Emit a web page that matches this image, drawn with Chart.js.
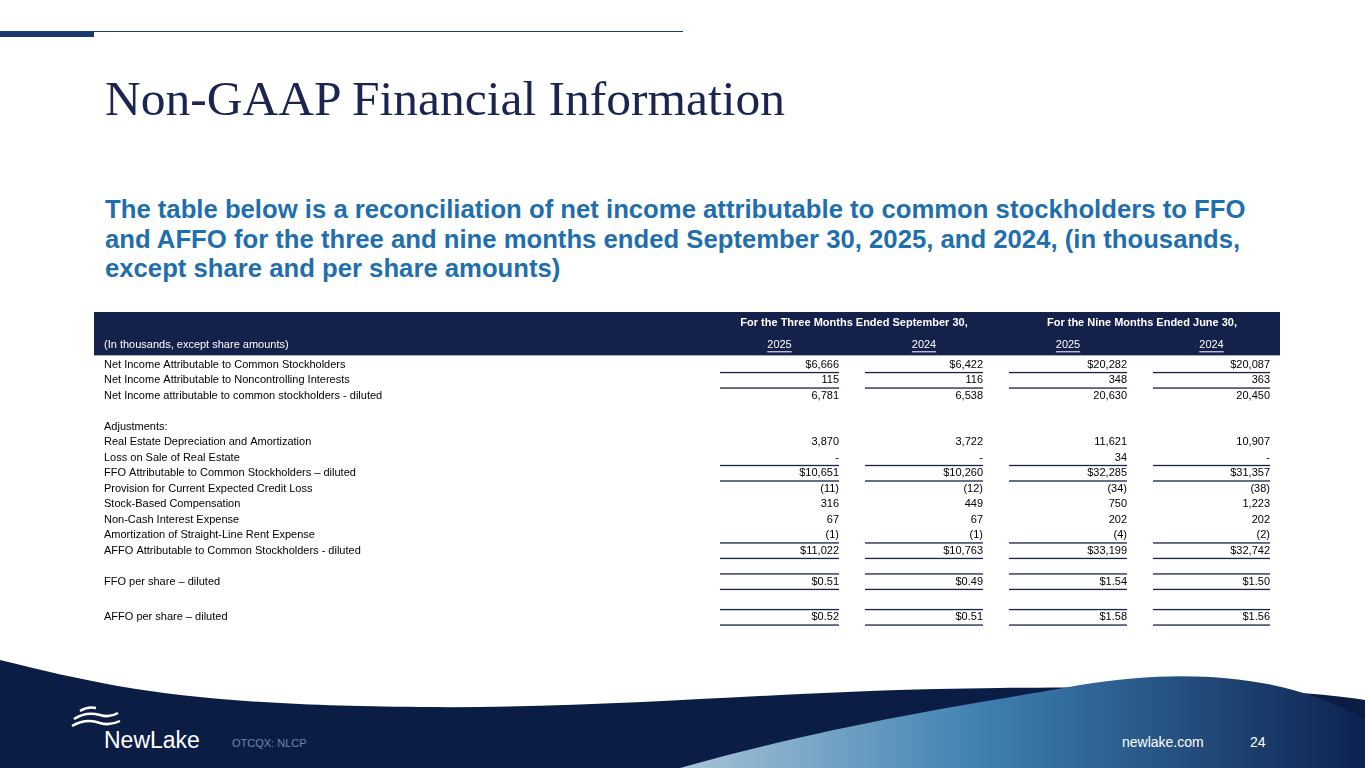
<!DOCTYPE html>
<html><head><meta charset="utf-8">
<script src="https://cdn.jsdelivr.net/npm/chart.js@4"></script>
<style>
body{margin:0;width:1365px;height:768px;overflow:hidden;background:#fff;font-family:"Liberation Sans",Arial,sans-serif;position:relative}
#title{position:absolute;left:105px;top:70px;font-family:"Liberation Serif","Times New Roman",serif;font-size:49.5px;color:#1b2550;white-space:nowrap}
#sub{position:absolute;left:105px;top:195px;width:1175px;font-weight:bold;font-size:25.7px;line-height:29.5px;color:#1f6fae}
#wrap{position:absolute;left:94px;top:312px;width:1186px;height:316px}
svg{position:absolute;left:0;top:0}
.ft{position:absolute;color:#fff;font-size:14px}
</style></head><body>
<svg width="1365" height="768">
 <rect x="0" y="31" width="94" height="6" fill="#1b3a70"/>
 <rect x="94" y="31" width="589" height="1" fill="#1b3a70"/>
 <defs><linearGradient id="g" x1="0" x2="1" y1="0" y2="0">
  <stop offset="0" stop-color="#a7c4d8"/><stop offset="0.45" stop-color="#3d7fb0"/><stop offset="1" stop-color="#0d2250"/></linearGradient></defs>
 <path d="M0,660 C120,690 200,705 420,707 C620,709 780,690 1000,688 C1200,686 1300,690 1365,700 L1365,768 L0,768 Z" fill="#0b1d45"/>
 <path d="M680,768 C850,720 1000,700 1080,685 C1200,665 1300,680 1365,720 L1365,768 Z" fill="url(#g)"/>
 <g fill="none" stroke="#fff" stroke-width="2.5"><path d="M74,719 q12,-8 26,-4 q10,3 18,-2"/><path d="M72,726 q14,-8 28,-3 q10,3 20,-2"/><path d="M80,711 q8,-5 16,-3"/></g>
</svg>
<div class="ft" style="left:104px;top:727px;font-size:23px">NewLake</div>
<div class="ft" style="left:232px;top:737px;font-size:11px;color:#6f86aa">OTCQX: NLCP</div>
<div class="ft" style="left:1122px;top:734px;font-size:14px">newlake.com</div>
<div class="ft" style="left:1250px;top:734px;font-size:14px">24</div>
<div id="title">Non-GAAP Financial Information</div>
<div id="sub">The table below is a reconciliation of net income attributable to common stockholders to FFO and AFFO for the three and nine months ended September 30, 2025, and 2024, (in thousands, except share and per share amounts)</div>
<div id="wrap"><canvas id="c"></canvas></div>
<script>
const groupHeaders = ["For the Three Months Ended September 30,", "For the Nine Months Ended June 30,"];
const columnYears = ["2025", "2024", "2025", "2024"];
const unitLabel = "(In thousands, except share amounts)";
const rowLabels = ["Net Income Attributable to Common Stockholders","Net Income Attributable to Noncontrolling Interests","Net Income attributable to common stockholders - diluted","","Adjustments:","Real Estate Depreciation and Amortization","Loss on Sale of Real Estate","FFO Attributable to Common Stockholders \u2013 diluted","Provision for Current Expected Credit Loss","Stock-Based Compensation","Non-Cash Interest Expense","Amortization of Straight-Line Rent Expense","AFFO Attributable to Common Stockholders - diluted","","FFO per share \u2013 diluted","","AFFO per share \u2013 diluted"];
const q3_2025 = ["$6,666","115","6,781","","","3,870","-","$10,651","(11)","316","67","(1)","$11,022","","$0.51","","$0.52"];
const q3_2024 = ["$6,422","116","6,538","","","3,722","-","$10,260","(12)","449","67","(1)","$10,763","","$0.49","","$0.51"];
const ytd_2025 = ["$20,282","348","20,630","","","11,621","34","$32,285","(34)","750","202","(4)","$33,199","","$1.54","","$1.58"];
const ytd_2024 = ["$20,087","363","20,450","","","10,907","-","$31,357","(38)","1,223","202","(2)","$32,742","","$1.50","","$1.56"];
const valueCols = [q3_2025, q3_2024, ytd_2025, ytd_2024];

// layout (x in canvas units 0..1186)
const colRight = [745, 889, 1033, 1176];
const colLeft = [626, 771, 915, 1059];
const groupCenters = [760, 1048];
const lineAbove = [1,2,7,12,14,16];
const lineBelow = [7,12,14,16];
const yFor = i => i + (i>=16 ? 0.3 : 0);

const tablePlugin = {id:'table', afterDraw(ch){
  const ctx=ch.ctx, x=ch.scales.x, y=ch.scales.y;
  const L=x.getPixelForValue(0), R=x.getPixelForValue(1186);
  ctx.save();
  ctx.fillStyle='#14214a';
  const top=y.getPixelForValue(-3.4), bot=y.getPixelForValue(-0.6);
  ctx.fillRect(L,top,R-L,bot-top);
  ctx.font='bold 11px "Liberation Sans", Arial'; ctx.fillStyle='#fff'; ctx.textBaseline='middle'; ctx.textAlign='center';
  groupHeaders.forEach((t,g)=>ctx.fillText(t, x.getPixelForValue(groupCenters[g]), y.getPixelForValue(-2.7)));
  ctx.font='11px "Liberation Sans", Arial'; ctx.textAlign='left';
  ctx.fillText(unitLabel, x.getPixelForValue(10), y.getPixelForValue(-1.25));
  ctx.textAlign='center';
  columnYears.forEach((t,c)=>{
    const cx=x.getPixelForValue((colRight[c]+colLeft[c])/2);
    ctx.fillText(t,cx,y.getPixelForValue(-1.25));
    const w=ctx.measureText(t).width;
    ctx.fillRect(cx-w/2,y.getPixelForValue(-1.25)+6,w,1);
  });
  ctx.fillStyle='#000';
  rowLabels.forEach((t,i)=>{ctx.textAlign='left';ctx.fillText(t,x.getPixelForValue(10),y.getPixelForValue(yFor(i)));});
  ctx.textAlign='right';
  valueCols.forEach((col,c)=>col.forEach((v,i)=>{ if(v) ctx.fillText(v,x.getPixelForValue(colRight[c]),y.getPixelForValue(yFor(i))); }));
  ctx.fillStyle='#1a2440';
  valueCols.forEach((col,c)=>{
    const a=x.getPixelForValue(colLeft[c]), b=x.getPixelForValue(colRight[c]);
    lineAbove.forEach(i=>ctx.fillRect(a,y.getPixelForValue(yFor(i)-0.5)-0.5,b-a,1.3));
    lineBelow.forEach(i=>ctx.fillRect(a,y.getPixelForValue(yFor(i)+0.5)-0.5,b-a,1.3));
  });
  ctx.restore();
}};
new Chart(document.getElementById('c'),{
  type:'scatter', data:{datasets:[{data:[]}]},
  options:{responsive:true,maintainAspectRatio:false,animation:false,events:[],
    layout:{padding:0},
    plugins:{legend:{display:false},tooltip:{enabled:false}},
    scales:{x:{type:'linear',min:0,max:1186,display:false},y:{type:'linear',min:-3.4,max:17.0,reverse:true,display:false}}},
  plugins:[tablePlugin]});
</script>
</body></html>
